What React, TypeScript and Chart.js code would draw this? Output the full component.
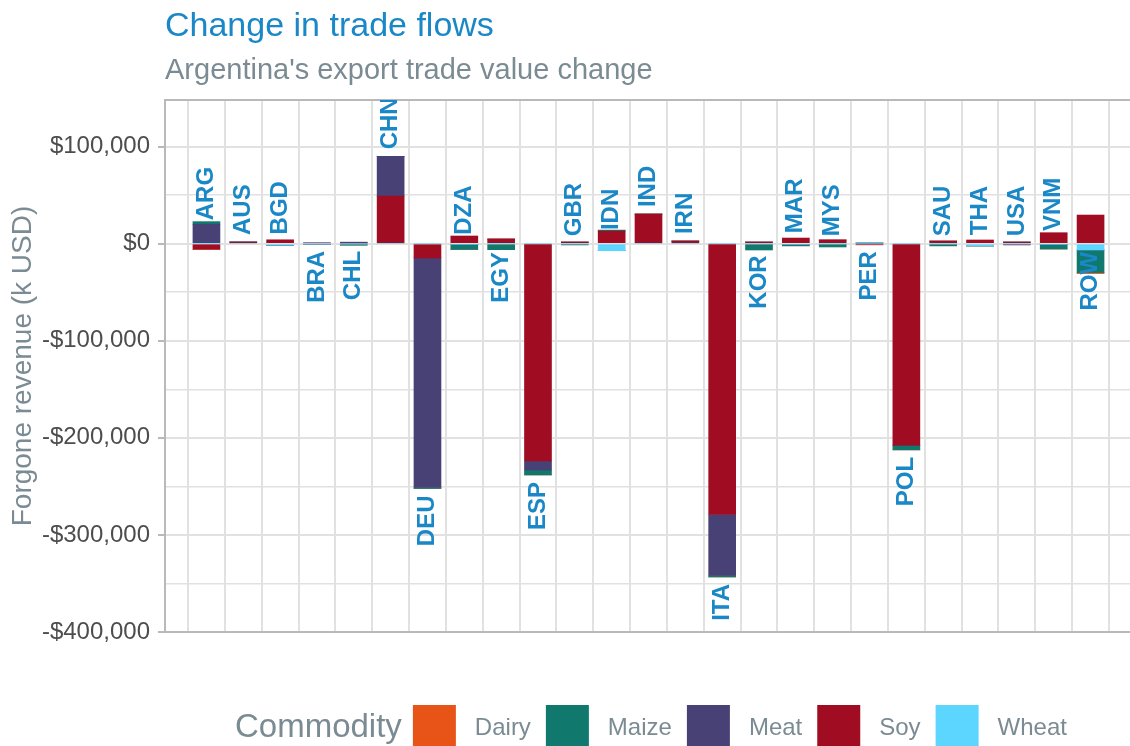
import React, { useEffect, useRef } from 'react';
import { Chart, registerables } from 'chart.js';

Chart.register(...registerables);

// ---------- data (k USD) ----------
const CATEGORIES = ['ARG', 'AUS', 'BGD', 'BRA', 'CHL', 'CHN', 'DEU', 'DZA', 'EGY', 'ESP', 'GBR', 'IDN', 'IND', 'IRN', 'ITA', 'KOR', 'MAR', 'MYS', 'PER', 'POL', 'SAU', 'THA', 'USA', 'VNM', 'ROW'];

const DAIRY = [0, 0, 0, 0, 0, 0, 0, 0, 0, 0, 0, 0, 0, 0, 0, 0, 0, 0, 0, 0, 0, 0, 0, 0, -1000];
const MAIZE = [2700, 0, 0, 0, -1700, 0, -1000, -5000, -6200, -5100, -1300, 1000, 0, 0, -1500, -6500, -1200, -3400, 0, -4800, -2300, 0, 0, -4500, -23300];
const MEAT = [20000, 0, 0, 800, 1500, 41000, -236500, 0, 0, -9300, 0, 0, 0, 0, -62800, 0, 0, 0, 0, 0, 0, 0, -1300, 0, 0];
const SOY = [-5800, 1700, 4000, 0, 0, 49000, -14700, 7900, 4800, -223800, 1700, 13000, 30500, 2700, -279000, 1700, 5800, 3800, -1200, -207600, 2700, 3800, 1700, 11300, 29500];
const WHEAT = [0, 0, -1700, -1000, 0, 0, 0, -1000, 0, 0, 0, -7200, 0, 0, 0, 0, -1000, 0, 700, 0, 0, -2300, 0, -1000, -6500];

const SERIES_NAMES = ['Dairy', 'Maize', 'Meat', 'Soy', 'Wheat'];
const SERIES_VALUES = [DAIRY, MAIZE, MEAT, SOY, WHEAT];
const SERIES_COLORS = ['#E85317', '#11786E', '#474175', '#A00C22', '#5CD5FF'];

const Y_MIN = -400000;
const Y_MAX = 148000;
const Y_GRID = [-400000, -350000, -300000, -250000, -200000, -150000, -100000, -50000, 0, 50000, 100000];
const Y_LABELLED = [-400000, -300000, -200000, -100000, 0, 100000];

const TITLE = 'Change in trade flows';
const SUBTITLE = "Argentina's export trade value change";
const Y_TITLE = 'Forgone revenue (k USD)';
const LEGEND_TITLE = 'Commodity';

// ---------- style ----------
const FONT = '"Liberation Sans", Arial, Helvetica, sans-serif';
const BLUE = '#1a87c7';
const GREY_TEXT = '#7b8b93';
const AXIS_COLOR = '#b9b9b9';
const GRID_COLOR = '#e1e1e1';

function fmtDollar(v: number): string {
  const s = '$' + Math.abs(v).toLocaleString('en-US');
  return v < 0 ? '-' + s : s;
}

function isLabelled(v: number): boolean {
  return Y_LABELLED.some((t) => Math.abs(t - v) < 1);
}

const overlayPlugin = {
  id: 'overlay',
  afterDatasetsDraw(chart: any) {
    const { ctx, chartArea, scales } = chart;
    // top panel border
    ctx.save();
    ctx.strokeStyle = AXIS_COLOR;
    ctx.lineWidth = 2;
    ctx.beginPath();
    ctx.moveTo(chartArea.left, chartArea.top);
    ctx.lineTo(chartArea.right, chartArea.top);
    ctx.stroke();
    ctx.restore();

    // country labels at the net value of each stack
    ctx.save();
    ctx.beginPath();
    ctx.rect(chartArea.left, chartArea.top, chartArea.right - chartArea.left, chartArea.bottom - chartArea.top);
    ctx.clip();
    ctx.fillStyle = BLUE;
    ctx.font = `bold 24px ${FONT}`;
    ctx.textBaseline = 'middle';
    CATEGORIES.forEach((c, i) => {
      const net = SERIES_VALUES.reduce((s, arr) => s + arr[i], 0);
      const x = scales.x.getPixelForValue(i);
      const y = scales.y.getPixelForValue(net);
      ctx.save();
      ctx.translate(x, net > 0 ? y - 7 : y + 7);
      ctx.rotate(-Math.PI / 2);
      ctx.textAlign = net > 0 ? 'left' : 'right';
      ctx.fillText(c, 0, 0);
      ctx.restore();
    });
    ctx.restore();
  },
  afterDraw(chart: any) {
    const { ctx } = chart;
    ctx.save();
    // title + subtitle
    ctx.textAlign = 'left';
    ctx.textBaseline = 'alphabetic';
    ctx.fillStyle = BLUE;
    ctx.font = `34px ${FONT}`;
    ctx.fillText(TITLE, 165, 36);
    ctx.fillStyle = GREY_TEXT;
    ctx.font = `29px ${FONT}`;
    ctx.fillText(SUBTITLE, 165, 79);

    // legend
    ctx.textBaseline = 'middle';
    let x = 235;
    const midY = 728;
    ctx.font = `33px ${FONT}`;
    ctx.fillStyle = GREY_TEXT;
    ctx.fillText(LEGEND_TITLE, x, midY);
    x += ctx.measureText(LEGEND_TITLE).width + 11;
    ctx.font = `24px ${FONT}`;
    SERIES_NAMES.forEach((name, i) => {
      ctx.fillStyle = SERIES_COLORS[i];
      ctx.fillRect(x, 705, 43, 43);
      x += 43 + 19;
      ctx.fillStyle = GREY_TEXT;
      ctx.fillText(name, x, midY);
      x += ctx.measureText(name).width + 15;
    });
    ctx.restore();
  },
};

export default function App() {
  const ref = useRef<HTMLCanvasElement>(null);

  useEffect(() => {
    if (!ref.current) return;
    // stacking order outward from zero: Wheat, Soy, Meat, Maize, Dairy
    const stackOrder = [4, 3, 2, 1, 0];
    const datasets = stackOrder.map((k) => ({
      label: SERIES_NAMES[k],
      data: SERIES_VALUES[k].map((v, i) => ({ x: i, y: v })),
      backgroundColor: SERIES_COLORS[k],
      borderWidth: 0,
      barThickness: 27,
    }));

    const chart = new Chart(ref.current, {
      type: 'bar',
      data: { datasets },
      options: {
        animation: false,
        responsive: false,
        maintainAspectRatio: false,
        layout: { padding: { top: 100, right: 8, bottom: 114, left: 0 } },
        plugins: {
          legend: { display: false },
          tooltip: { enabled: false },
        },
        scales: {
          x: {
            type: 'linear',
            min: -0.6,
            max: CATEGORIES.length - 1 + 0.6,
            stacked: true,
            afterBuildTicks: (s: any) => {
              s.ticks = CATEGORIES.map((_, i) => ({ value: i }));
            },
            afterFit: (s: any) => {
              s.height = 0;
            },
            ticks: { display: false },
            grid: { color: GRID_COLOR, lineWidth: 2, drawTicks: false },
            border: { color: AXIS_COLOR, width: 2 },
          },
          y: {
            min: Y_MIN,
            max: Y_MAX,
            stacked: true,
            afterBuildTicks: (s: any) => {
              s.ticks = Y_GRID.map((v) => ({ value: v }));
            },
            afterFit: (s: any) => {
              s.width = 165;
            },
            ticks: {
              autoSkip: false,
              padding: 8,
              color: '#4d4d4d',
              font: { family: FONT, size: 24 },
              callback: (v: any) => (isLabelled(Number(v)) ? fmtDollar(Math.round(Number(v))) : ''),
            },
            grid: {
              color: GRID_COLOR,
              lineWidth: (c: any) => (c.tick && isLabelled(c.tick.value) ? 2 : 1.5),
              tickLength: 7,
              tickWidth: 2,
              tickColor: (c: any) => (c.tick && isLabelled(c.tick.value) ? AXIS_COLOR : 'rgba(0,0,0,0)'),
            },
            border: { color: AXIS_COLOR, width: 2 },
            title: {
              display: true,
              text: Y_TITLE,
              color: GREY_TEXT,
              font: { family: FONT, size: 28 },
              padding: { top: 6, bottom: 0 },
            },
          },
        },
      },
      plugins: [overlayPlugin],
    } as any);

    return () => chart.destroy();
  }, []);

  return (
    <div style={{ position: 'fixed', left: 0, top: 0, width: 1130, height: 746, overflow: 'hidden', background: '#ffffff' }}>
      <canvas ref={ref} width={1140} height={746} style={{ display: 'block' }} />
    </div>
  );
}
